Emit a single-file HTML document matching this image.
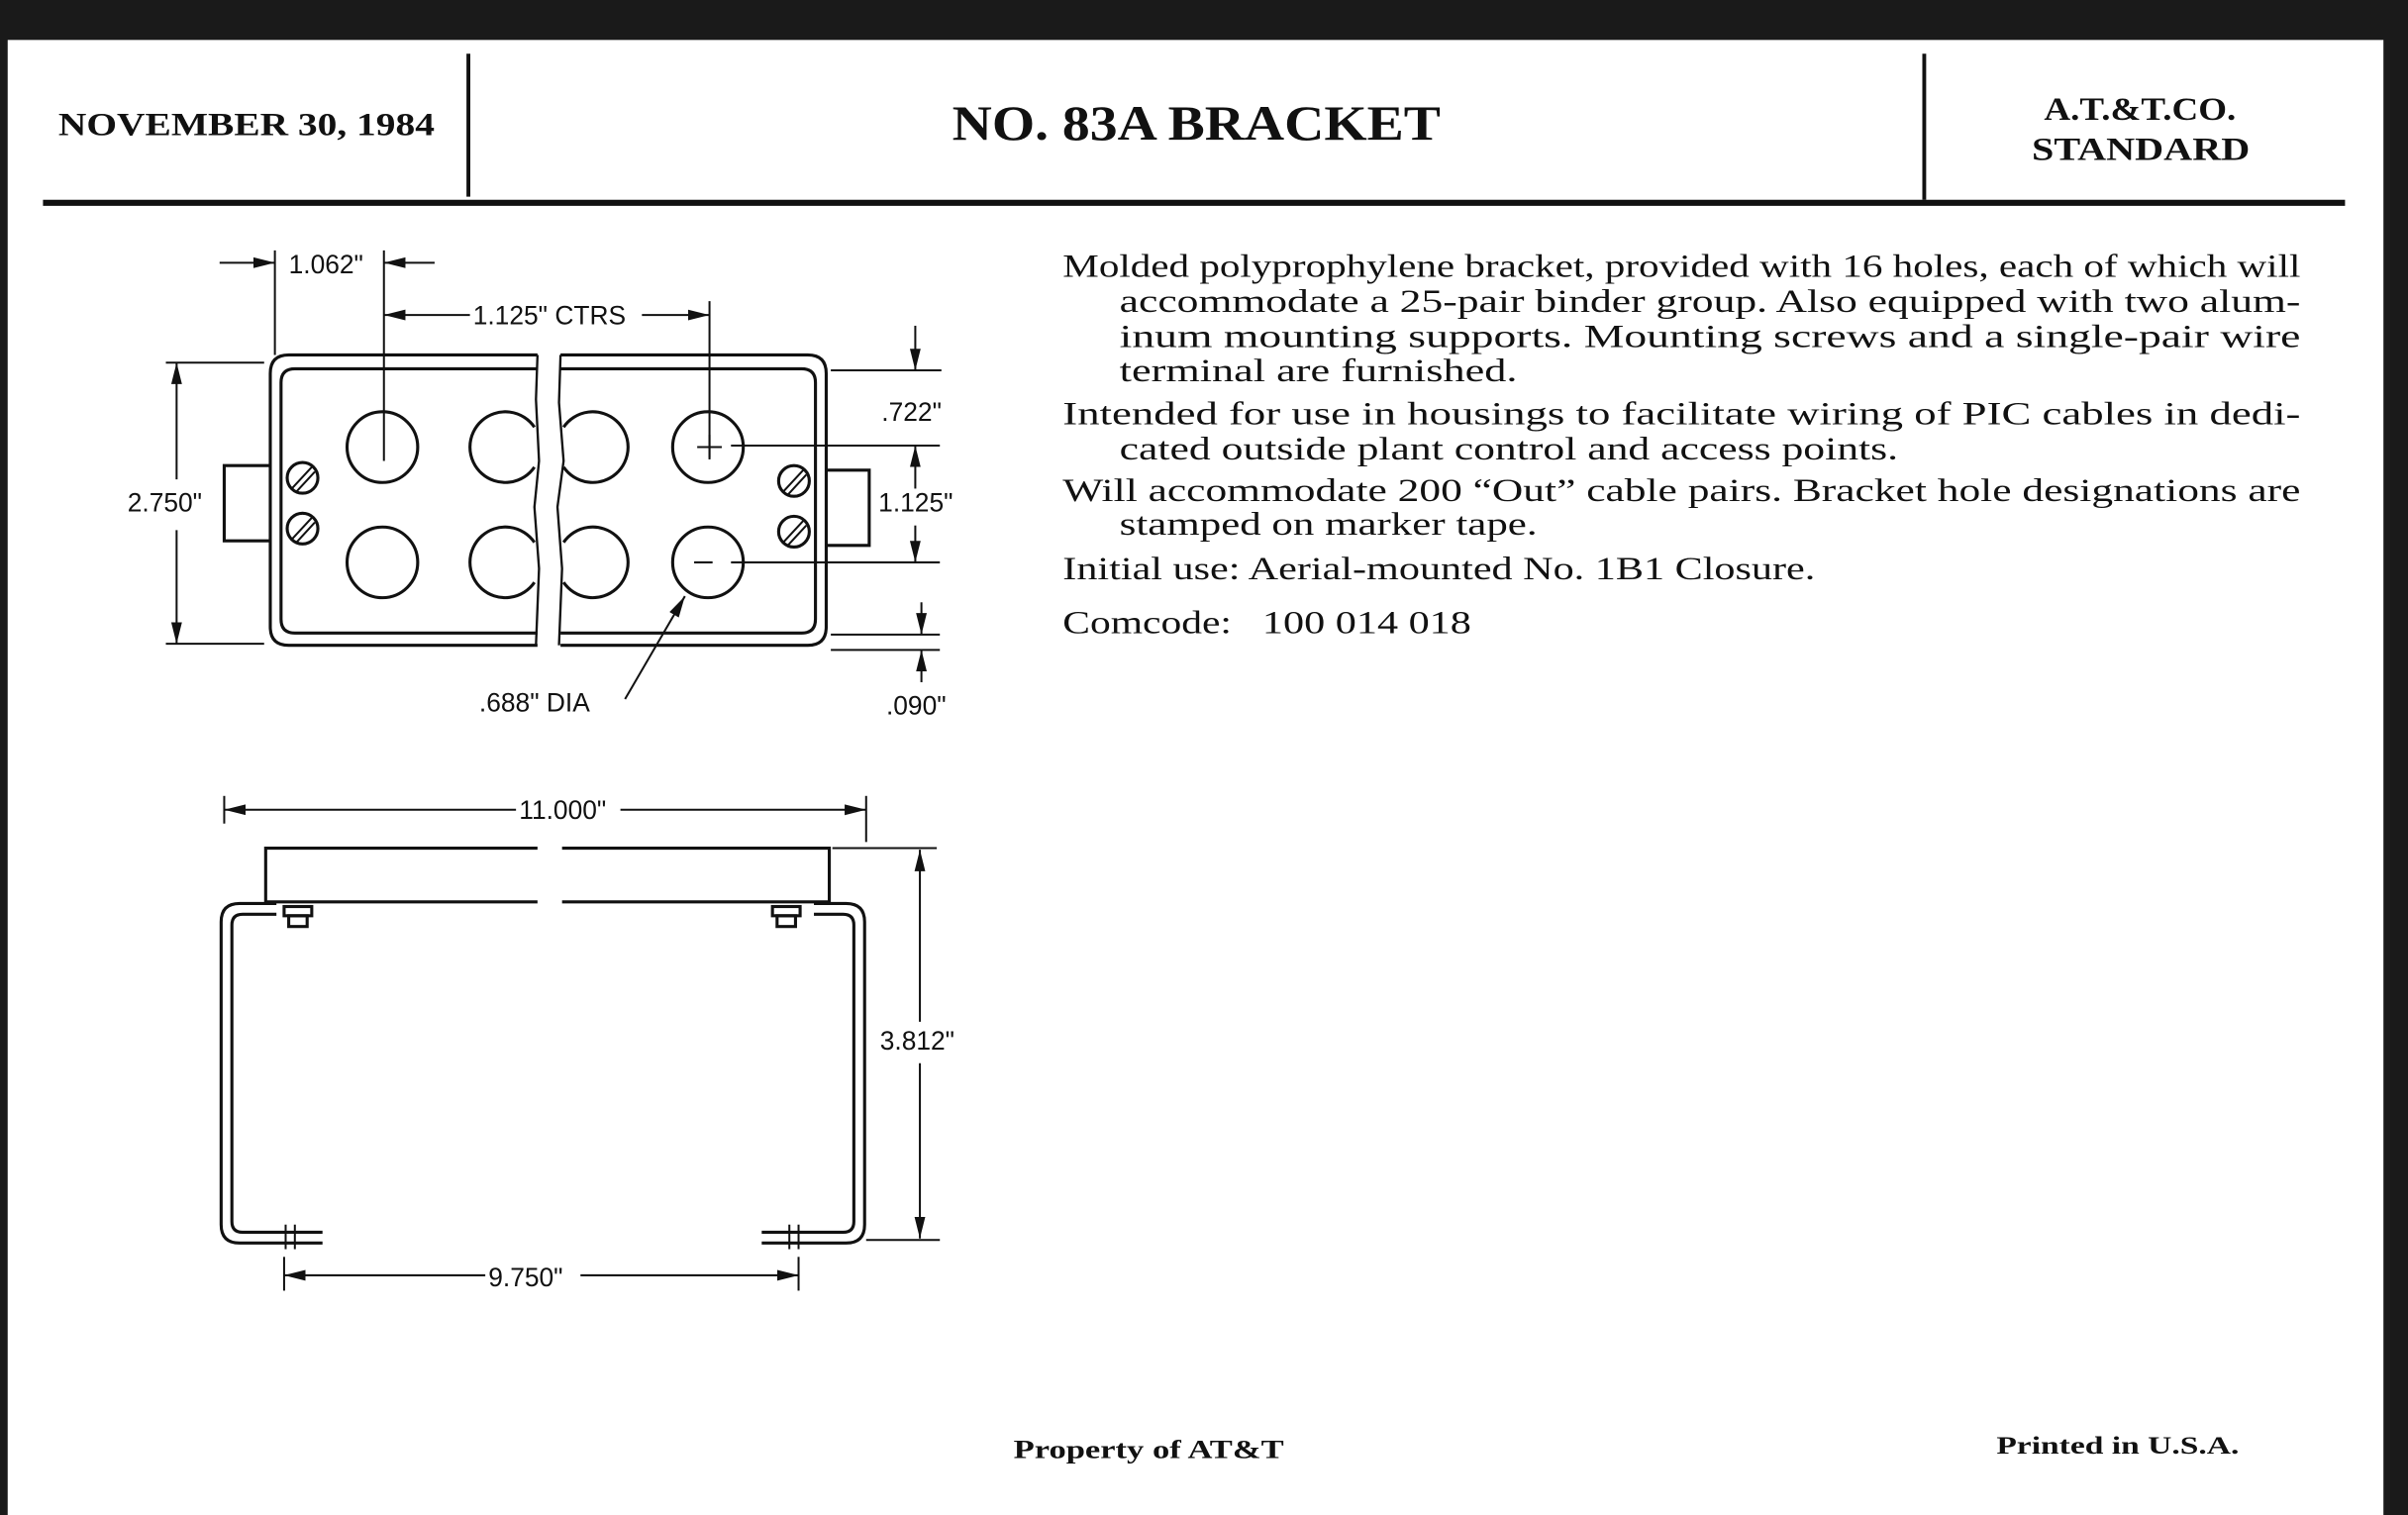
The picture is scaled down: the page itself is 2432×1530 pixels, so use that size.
<!DOCTYPE html>
<html><head><meta charset="utf-8"><style>
html,body{margin:0;padding:0;background:#fff}
svg{display:block}
.s{font-family:"Liberation Serif",serif;fill:#111}
.d{font-family:"Liberation Sans",sans-serif;fill:#111;font-size:17px}
</style></head><body>
<svg width="2432" height="1530" viewBox="0 0 1568 986" preserveAspectRatio="none" xmlns="http://www.w3.org/2000/svg">
<defs>
<marker id="a" viewBox="0 0 14 8" refX="14" refY="4" markerWidth="14" markerHeight="8" orient="auto-start-reverse" markerUnits="userSpaceOnUse"><path d="M0,0.5 L14,4 L0,7.5z" fill="#111"/></marker>
</defs>
<rect width="1568" height="986" fill="#1a1a1a"/>
<rect x="5" y="26" width="1547" height="960" fill="#fff"/>
<g stroke="#111">
<line x1="305" y1="35" x2="305" y2="128" stroke-width="2.5"/>
<line x1="1253" y1="35" x2="1253" y2="130" stroke-width="2.5"/>
<line x1="28" y1="132" x2="1527" y2="132" stroke-width="4"/>
</g>
<text class="s" x="38" y="88" font-size="21" font-weight="bold" textLength="245" lengthAdjust="spacingAndGlyphs">NOVEMBER 30, 1984</text>
<text class="s" x="620" y="91" font-size="32" font-weight="bold" textLength="318" lengthAdjust="spacingAndGlyphs">NO. 83A BRACKET</text>
<text class="s" x="1331" y="78" font-size="21" font-weight="bold" textLength="125" lengthAdjust="spacingAndGlyphs">A.T.&amp;T.CO.</text>
<text class="s" x="1323" y="104" font-size="21" font-weight="bold" textLength="142" lengthAdjust="spacingAndGlyphs">STANDARD</text>
<g class="s" font-size="21">
<text x="692" y="180" textLength="806" lengthAdjust="spacingAndGlyphs">Molded polyprophylene bracket, provided with 16 holes, each of which will</text>
<text x="729" y="203" textLength="769" lengthAdjust="spacingAndGlyphs">accommodate a 25-pair binder group. Also equipped with two alum-</text>
<text x="729" y="226" textLength="769" lengthAdjust="spacingAndGlyphs">inum mounting supports. Mounting screws and a single-pair wire</text>
<text x="729" y="248" textLength="259" lengthAdjust="spacingAndGlyphs">terminal are furnished.</text>
<text x="692" y="276" textLength="806" lengthAdjust="spacingAndGlyphs">Intended for use in housings to facilitate wiring of PIC cables in dedi-</text>
<text x="729" y="299" textLength="507" lengthAdjust="spacingAndGlyphs">cated outside plant control and access points.</text>
<text x="692" y="326" textLength="806" lengthAdjust="spacingAndGlyphs">Will accommodate 200 “Out” cable pairs. Bracket hole designations are</text>
<text x="729" y="348" textLength="272" lengthAdjust="spacingAndGlyphs">stamped on marker tape.</text>
<text x="692" y="377" textLength="490" lengthAdjust="spacingAndGlyphs">Initial use: Aerial-mounted No. 1B1 Closure.</text>
<text x="692" y="412" textLength="110" lengthAdjust="spacingAndGlyphs">Comcode:</text>
<text x="822" y="412" textLength="136" lengthAdjust="spacingAndGlyphs">100 014 018</text>
</g>
<text class="s" x="660" y="949" font-size="17" font-weight="bold" textLength="176" lengthAdjust="spacingAndGlyphs">Property of AT&amp;T</text>
<text class="s" x="1300" y="946" font-size="16" font-weight="bold" textLength="158" lengthAdjust="spacingAndGlyphs">Printed in U.S.A.</text>
<g fill="none" stroke="#111" stroke-width="2">
<path d="M350,231 H188 Q176,231 176,243 V408 Q176,420 188,420 H350"/>
<path d="M350,240 H192 Q183,240 183,249 V403 Q183,412 192,412 H350"/>
<path d="M365,231 H526 Q538,231 538,243 V408 Q538,420 526,420 H365"/>
<path d="M365,240 H522 Q531,240 531,249 V403 Q531,412 522,412 H365"/>
<path d="M350,231 L349,260 L351,300 L348,330 L351,370 L349,420" stroke-width="1.5"/>
<path d="M365,231 L364,262 L367,300 L363,330 L366,370 L364,420" stroke-width="1.5"/>
<circle cx="249" cy="291" r="23"/><circle cx="249" cy="366" r="23"/>
<circle cx="461" cy="291" r="23"/><circle cx="461" cy="366" r="23"/>
<path d="M348,278 A23,23 0 1,0 348,304"/><path d="M348,353 A23,23 0 1,0 348,379"/>
<path d="M367,278 A23,23 0 1,1 367,304"/><path d="M367,353 A23,23 0 1,1 367,379"/>
<path d="M176,303 H146 V352 H176"/><path d="M538,306 H566 V355 H538"/>
<circle cx="197" cy="311" r="10"/><circle cx="197" cy="344" r="10"/>
<circle cx="517" cy="313" r="10"/><circle cx="517" cy="346" r="10"/>
</g>
<g stroke="#111" stroke-width="1.3">
<line x1="190" y1="318" x2="203" y2="304"/><line x1="193" y1="320" x2="205" y2="307"/>
<line x1="190" y1="351" x2="203" y2="337"/><line x1="193" y1="353" x2="205" y2="340"/>
<line x1="510" y1="320" x2="523" y2="306"/><line x1="513" y1="322" x2="525" y2="309"/>
<line x1="510" y1="353" x2="523" y2="339"/><line x1="513" y1="355" x2="525" y2="342"/>
<line x1="179" y1="163" x2="179" y2="231"/><line x1="250" y1="163" x2="250" y2="300"/>
<line x1="143" y1="171" x2="179" y2="171" marker-end="url(#a)"/>
<line x1="283" y1="171" x2="250" y2="171" marker-end="url(#a)"/>
<line x1="462" y1="196" x2="462" y2="298"/>
<line x1="306" y1="205" x2="250" y2="205" marker-end="url(#a)"/>
<line x1="418" y1="205" x2="462" y2="205" marker-end="url(#a)"/>
<line x1="108" y1="236" x2="172" y2="236"/><line x1="108" y1="419" x2="172" y2="419"/>
<line x1="115" y1="312" x2="115" y2="236" marker-end="url(#a)"/>
<line x1="115" y1="345" x2="115" y2="419" marker-end="url(#a)"/>
<line x1="541" y1="241" x2="613" y2="241"/>
<line x1="596" y1="212" x2="596" y2="241" marker-end="url(#a)"/>
<line x1="454" y1="291" x2="470" y2="291"/><line x1="462" y1="283" x2="462" y2="299"/>
<line x1="476" y1="290" x2="612" y2="290"/><line x1="476" y1="366" x2="612" y2="366"/>
<line x1="452" y1="366" x2="464" y2="366"/>
<line x1="596" y1="318" x2="596" y2="290" marker-end="url(#a)"/>
<line x1="596" y1="342" x2="596" y2="366" marker-end="url(#a)"/>
<line x1="541" y1="413" x2="612" y2="413"/><line x1="541" y1="423" x2="612" y2="423"/>
<line x1="600" y1="392" x2="600" y2="413" marker-end="url(#a)"/>
<line x1="600" y1="444" x2="600" y2="423" marker-end="url(#a)"/>
<line x1="407" y1="455" x2="446" y2="388" marker-end="url(#a)"/>
</g>
<g class="d">
<text x="188" y="178">1.062"</text>
<text x="308" y="211">1.125" CTRS</text>
<text x="83" y="333">2.750"</text>
<text x="574" y="274">.722"</text>
<text x="572" y="333">1.125"</text>
<text x="577" y="465">.090"</text>
<text x="312" y="463">.688" DIA</text>
<text x="338" y="533">11.000"</text>
<text x="573" y="683">3.812"</text>
<text x="318" y="837">9.750"</text>
</g>
<g fill="none" stroke="#111" stroke-width="2">
<path d="M350,552 H173 V587 H350"/><path d="M366,552 H540 V587 H366"/>
<path d="M180,588 H156 Q144,588 144,600 V797 Q144,809 156,809 H210"/>
<path d="M180,595 H158 Q151,595 151,602 V795 Q151,802 158,802 H210"/>
<path d="M530,588 H551 Q563,588 563,600 V797 Q563,809 551,809 H496"/>
<path d="M530,595 H549 Q556,595 556,602 V795 Q556,802 549,802 H496"/>
<rect x="185" y="590" width="18" height="6"/><rect x="188" y="596" width="12" height="7"/>
<rect x="503" y="590" width="18" height="6"/><rect x="506" y="596" width="12" height="7"/>
</g>
<g stroke="#111" stroke-width="1.3">
<line x1="186" y1="797" x2="186" y2="813"/><line x1="192" y1="797" x2="192" y2="813"/>
<line x1="514" y1="797" x2="514" y2="813"/><line x1="520" y1="797" x2="520" y2="813"/>
<line x1="146" y1="518" x2="146" y2="536"/><line x1="564" y1="518" x2="564" y2="548"/>
<line x1="336" y1="527" x2="146" y2="527" marker-end="url(#a)"/>
<line x1="404" y1="527" x2="564" y2="527" marker-end="url(#a)"/>
<line x1="542" y1="552" x2="610" y2="552"/><line x1="564" y1="807" x2="612" y2="807"/>
<line x1="599" y1="665" x2="599" y2="553" marker-end="url(#a)"/>
<line x1="599" y1="692" x2="599" y2="806" marker-end="url(#a)"/>
<line x1="185" y1="818" x2="185" y2="840"/><line x1="520" y1="818" x2="520" y2="840"/>
<line x1="316" y1="830" x2="185" y2="830" marker-end="url(#a)"/>
<line x1="378" y1="830" x2="520" y2="830" marker-end="url(#a)"/>
</g>
</svg>
</body></html>
